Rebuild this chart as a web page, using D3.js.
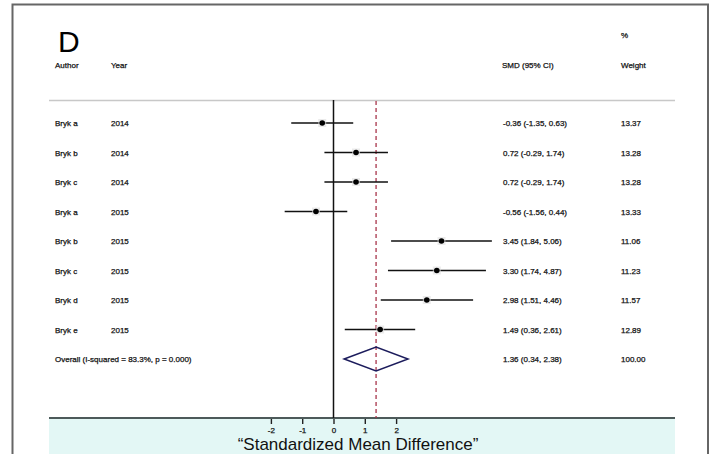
<!DOCTYPE html>
<html lang="en">
<head>
  <meta charset="UTF-8">
  <title>Forest plot D</title>
  <script src="https://d3js.org/d3.v7.min.js"></script>
  <style>
    body { margin: 0; background: #fff; }
    svg text { font-family: "Liberation Sans", Arial, sans-serif; }
    .small text { stroke: #111; stroke-width: 0.25px; }
  </style>
</head>
<body>
<script>
// study rows
var authors = ["Bryk a", "Bryk b", "Bryk c", "Bryk a", "Bryk b", "Bryk c", "Bryk d", "Bryk e"];
var years   = ["2014", "2014", "2014", "2015", "2015", "2015", "2015", "2015"];
var smd     = [-0.36, 0.72, 0.72, -0.56, 3.45, 3.30, 2.98, 1.49];
var lower   = [-1.35, -0.29, -0.29, -1.56, 1.84, 1.74, 1.51, 0.36];
var upper   = [0.63, 1.74, 1.74, 0.44, 5.06, 4.87, 4.46, 2.61];
var weights = ["13.37", "13.28", "13.28", "13.33", "11.06", "11.23", "11.57", "12.89"];

// pooled estimate
var overallLabel = "Overall  (I-squared = 83.3%, p = 0.000)";
var overall = {smd: 1.36, lower: 0.34, upper: 2.38, weight: "100.00"};

var tickVals = [-2, -1, 0, 1, 2];

var W = 714, H = 454;
var svg = d3.select("body").append("svg")
    .attr("width", W).attr("height", H);

// outer frame
svg.append("path")
    .attr("d", "M12.5,460 V4.5 H708 V460")
    .attr("fill", "none").attr("stroke", "#666").attr("stroke-width", 2);

// axis band at the bottom
svg.append("rect")
    .attr("x", 49).attr("y", 418).attr("width", 626).attr("height", 40)
    .attr("fill", "#e3f7f5");
svg.append("line")
    .attr("x1", 49).attr("x2", 675).attr("y1", 418).attr("y2", 418)
    .attr("stroke", "#4d5a5a").attr("stroke-width", 2);

var x = d3.scaleLinear().domain([-2, 2]).range([270.9, 396.1]);
var y = d3.scaleLinear().domain([0, 8]).range([123, 359]);

// header
svg.append("text").attr("x", 58).attr("y", 52)
    .attr("font-size", 30).attr("fill", "#000").text("D");

var hdr = svg.append("g").attr("class", "small").attr("font-size", 8).attr("fill", "#111");
hdr.append("text").attr("x", 55).attr("y", 68).text("Author");
hdr.append("text").attr("x", 111).attr("y", 68).text("Year");
hdr.append("text").attr("x", 502).attr("y", 68).text("SMD (95% CI)");
hdr.append("text").attr("x", 621).attr("y", 38).text("%");
hdr.append("text").attr("x", 621).attr("y", 68).text("Weight");

svg.append("line")
    .attr("x1", 49).attr("x2", 675).attr("y1", 100.5).attr("y2", 100.5)
    .attr("stroke", "#c8c8c8").attr("stroke-width", 1.5);

// reference lines
svg.append("line")
    .attr("x1", x(0)).attr("x2", x(0)).attr("y1", 100).attr("y2", 418)
    .attr("stroke", "#111").attr("stroke-width", 1.5);
svg.append("line")
    .attr("x1", x(overall.smd)).attr("x2", x(overall.smd)).attr("y1", 101).attr("y2", 418)
    .attr("stroke", "#a8344a").attr("stroke-width", 1.3)
    .attr("stroke-dasharray", "4,3");

// study rows
var rows = d3.range(authors.length);
var g = svg.append("g").attr("class", "small").attr("font-size", 8).attr("fill", "#111");

g.selectAll(".ci").data(rows).enter().append("line")
    .attr("x1", function(i) { return x(lower[i]); })
    .attr("x2", function(i) { return x(upper[i]); })
    .attr("y1", function(i) { return y(i); })
    .attr("y2", function(i) { return y(i); })
    .attr("stroke", "#111").attr("stroke-width", 1.6);

g.selectAll(".box").data(rows).enter().append("rect")
    .attr("x", function(i) { return x(smd[i]) - 4; })
    .attr("y", function(i) { return y(i) - 4; })
    .attr("width", 8).attr("height", 8)
    .attr("fill", "#ddd").attr("opacity", 0.6);

g.selectAll(".pt").data(rows).enter().append("circle")
    .attr("cx", function(i) { return x(smd[i]); })
    .attr("cy", function(i) { return y(i); })
    .attr("r", 2.8).attr("fill", "#000");

g.selectAll(".au").data(rows).enter().append("text")
    .attr("x", 55).attr("y", function(i) { return y(i) + 3; })
    .text(function(i) { return authors[i]; });
g.selectAll(".yr").data(rows).enter().append("text")
    .attr("x", 111).attr("y", function(i) { return y(i) + 3; })
    .text(function(i) { return years[i]; });
g.selectAll(".es").data(rows).enter().append("text")
    .attr("x", 503).attr("y", function(i) { return y(i) + 3; })
    .text(function(i) {
      return smd[i].toFixed(2) + " (" + lower[i].toFixed(2) + ", " + upper[i].toFixed(2) + ")";
    });
g.selectAll(".wt").data(rows).enter().append("text")
    .attr("x", 621).attr("y", function(i) { return y(i) + 3; })
    .text(function(i) { return weights[i]; });

// overall diamond
var oy = y(authors.length);
svg.append("path")
    .attr("d", "M" + x(overall.lower) + "," + oy +
               " L" + x(overall.smd) + "," + (oy - 12) +
               " L" + x(overall.upper) + "," + oy +
               " L" + x(overall.smd) + "," + (oy + 12) + " Z")
    .attr("fill", "none").attr("stroke", "#1c1c5c").attr("stroke-width", 1.5);
g.append("text").attr("x", 55).attr("y", oy + 3).text(overallLabel);
g.append("text").attr("x", 503).attr("y", oy + 3)
    .text(overall.smd.toFixed(2) + " (" + overall.lower.toFixed(2) + ", " + overall.upper.toFixed(2) + ")");
g.append("text").attr("x", 621).attr("y", oy + 3).text(overall.weight);

// x axis
var axis = svg.append("g")
    .attr("class", "small")
    .attr("transform", "translate(0,419)")
    .call(d3.axisBottom(x).tickValues(tickVals).tickSize(5).tickPadding(3)
      .tickFormat(function(d) { return String(d); }));
axis.select(".domain").remove();
axis.selectAll(".tick line").attr("stroke", "#222").attr("stroke-width", 1.4);
axis.selectAll(".tick text").attr("font-size", 8).attr("fill", "#111")
    .attr("font-family", "Liberation Sans, Arial, sans-serif");

svg.append("text")
    .attr("x", 358).attr("y", 450).attr("text-anchor", "middle")
    .attr("font-size", 17).attr("fill", "#111")
    .text("\u201CStandardized Mean Difference\u201D");
</script>
</body>
</html>
